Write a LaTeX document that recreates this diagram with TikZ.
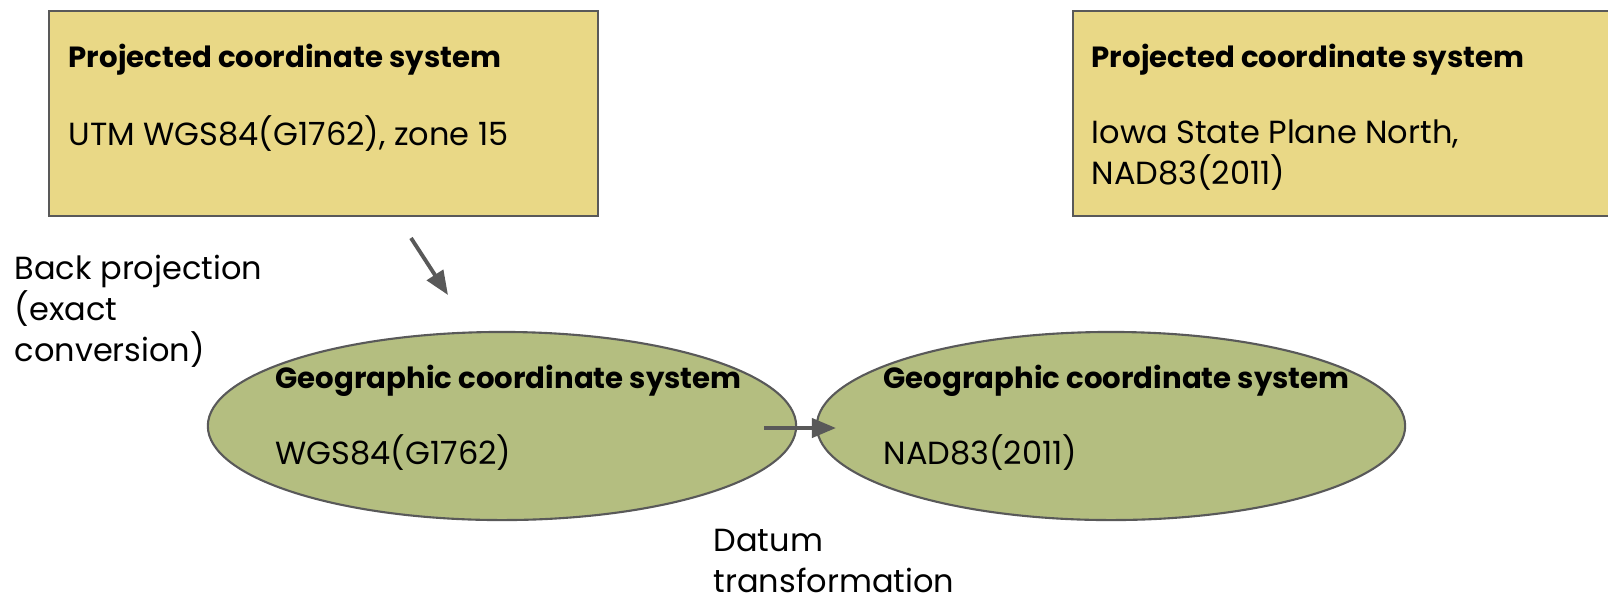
\documentclass[tikz,border=0pt]{standalone}
\usepackage{fontspec}
\setmainfont{Poppins}
\usetikzlibrary{arrows.meta,shapes.geometric}

\definecolor{projfill}{HTML}{E9D886}
\definecolor{geofill}{HTML}{B4BE80}
\definecolor{edgegray}{HTML}{595959}

\begin{document}
\begin{tikzpicture}[x=0.01cm,y=-0.01cm,
  every node/.style={font=\fontsize{9.1}{11.6}\selectfont,inner sep=0pt},
  projbox/.style={draw=edgegray,fill=projfill,line width=0.6pt,anchor=north west},
  geoell/.style={draw=edgegray,fill=geofill,line width=0.6pt,ellipse,
    minimum width=5.88cm,minimum height=1.88cm},
  conv/.style={draw=edgegray,line width=1.1pt,-{Triangle[length=2.4mm,width=1.9mm]}},
  txt/.style={anchor=base west,align=left},
  head/.style={txt,font=\fontsize{8.3}{11.6}\selectfont\bfseries}]
\useasboundingbox (0,0) rectangle (1608,599);
\clip (0,0) rectangle (1608,599);

% projected systems
\node[projbox,minimum width=5.49cm,minimum height=2.05cm] (utm) at (48,10) {};
\node[projbox,minimum width=5.6cm,minimum height=2.05cm] (iowa) at (1072,10) {};
\node[head] (utmhead) at (68,67) {Projected coordinate system};
\node[txt] (utmtxt) at (68,145) {UTM WGS84(G1762), zone 15};
\node[head] (iowahead) at (1091,67) {Projected coordinate system};
% base of a multi-line node sits on its last line
\node[txt] (iowatxt) at (1091,184) {Iowa State Plane North,\\NAD83(2011)};

% geographic systems
\node[geoell] (wgs) at (502,426) {};
\node[geoell] (nad) at (1111,426) {};
\node[head] (wgshead) at (275,388) {Geographic coordinate system};
\node[txt] (wgstxt) at (275,464) {WGS84(G1762)};
\node[head] (nadhead) at (883,388) {Geographic coordinate system};
\node[txt] (nadtxt) at (883,464) {NAD83(2011)};

% conversions
\coordinate (backfrom) at (411,238);
\coordinate (backto) at (448,295);
\coordinate (datumfrom) at (764,428);
\coordinate (datumto) at (836,428);
\draw[conv] (backfrom) -- (backto);
\draw[conv] (datumfrom) -- (datumto);
\node[txt] (backlbl) at (14,361) {Back projection\\(exact\\conversion)};
\node[txt] (datumlbl) at (713,592) {Datum\\transformation};
\end{tikzpicture}
\end{document}
